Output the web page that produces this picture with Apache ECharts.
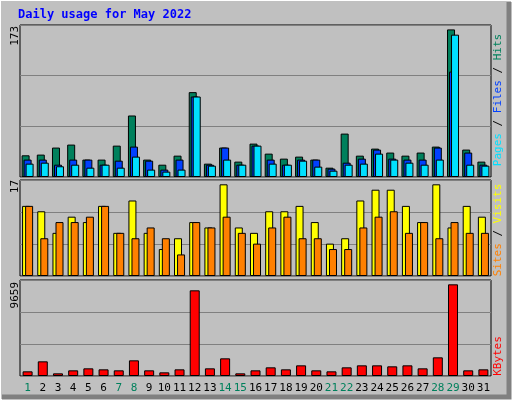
<!DOCTYPE html>
<html>
<head>
<meta charset="utf-8">
<script src="https://cdn.jsdelivr.net/npm/echarts@6/dist/echarts.min.js"></script>
<style>
	html, body { margin: 0; padding: 0; background: #c0c0c0; }
	#chart { width: 512px; height: 400px; }
</style>
</head>
<body>
<div id="chart"></div>
<script>
var days = [];
for (var d = 1; d <= 31; d++) {
	days.push(String(d));
}
var weekendDays = ["1", "7", "8", "14", "15", "21", "22", "28", "29"];

// 上图 (Hits / Files / Pages)
var hits = [24.7, 25.5, 33.5, 36.9, 19.8, 19.8, 35.7, 70, 19.8, 14, 24.3, 96.6, 15.2, 33.5, 17.5, 38,
	26.6, 20.9, 23.2, 19.8, 10.6, 49.4, 24.3, 32.3, 27.8, 24.3, 27.8, 34.6, 168, 31.2, 17.5];
var files = [19.8, 19.8, 14, 19.8, 19.8, 14, 18.6, 34.6, 18.6, 8.4, 19.8, 91.6, 14, 33.5, 14, 35.7,
	19.8, 14, 19.8, 19.8, 9.5, 16.3, 20.9, 31.2, 20.9, 19.8, 19.8, 33.5, 120, 27.8, 14];
var pages = [15.2, 16.3, 12.2, 14, 10.6, 14, 10.6, 23.2, 8.4, 6.1, 8.4, 91.6, 12.9, 19.8, 14, 35.7,
	15.2, 14, 18.6, 11.8, 7.2, 14, 15.2, 26.6, 19.8, 16.3, 14, 19.8, 162, 14, 12.9];

// 中图 (Visits / Sites)
var visits = [13, 12, 8, 11, 10, 13, 8, 14, 8, 5, 7, 10, 9, 17, 9, 8,
	12, 12, 13, 10, 6, 7, 14, 16, 16, 13, 10, 17, 9, 13, 11];
var sites = [13, 7, 10, 10, 11, 13, 8, 7, 9, 7, 4, 10, 9, 11, 8, 6,
	9, 11, 7, 7, 5, 5, 9, 11, 12, 8, 10, 7, 10, 8, 8];

// 下图 (KBytes)
var kbytes = [492, 1545, 281, 597, 808, 702, 597, 1651, 597, 386, 702, 9027, 808, 1862, 281, 597,
	913, 702, 1124, 597, 492, 913, 1124, 1124, 1019, 1124, 808, 1967, 9659, 597, 702];

var maxHits = 173, maxVisits = 17.8, maxKB = 10116;

var chart = echarts.init(document.getElementById("chart"));
var mono = "DejaVu Sans Mono";

function grid(top, height) {
	return {
		left: 20, right: 21, top: top, height: height,
		show: true, backgroundColor: "#c0c0c0",
		borderColor: "#000", borderWidth: 1
	};
}
function xAxis(idx, showLabel) {
	return {
		type: "category", gridIndex: idx, data: days,
		axisLine: { show: false }, axisTick: { show: false },
		axisLabel: {
			show: showLabel, fontFamily: mono, fontSize: 11, margin: 7,
			interval: 0,
			formatter: function (v) {
				return weekendDays.indexOf(v) >= 0 ? "{w|" + v + "}" : "{n|" + v + "}";
			},
			rich: { w: { color: "#00805c", fontFamily: mono, fontSize: 11 }, n: { color: "#000", fontFamily: mono, fontSize: 11 } }
		}
	};
}
function yAxis(idx, max) {
	return {
		type: "value", gridIndex: idx, min: 0, max: max, interval: max / 3,
		axisLabel: { show: false }, axisLine: { show: false }, axisTick: { show: false },
		splitLine: { lineStyle: { color: "#808080", width: 1 } }
	};
}
function bars(name, data, xi, color, width, gap) {
	var s = {
		name: name, type: "bar", xAxisIndex: xi, yAxisIndex: xi, data: data,
		barWidth: width, animation: false,
		itemStyle: { color: color, borderColor: "#000", borderWidth: 1 }
	};
	if (gap) {
		s.barGap = gap;
	}
	return s;
}
function vtext(x, y, rich, text) {
	return {
		type: "text", x: x, y: y, rotation: Math.PI / 2,
		style: { text: text, rich: rich, fontFamily: mono, fontSize: 11, align: "right", verticalAlign: "middle" }
	};
}

var option = {
	backgroundColor: "#c0c0c0",
	grid: [grid(25, 152), grid(180, 96), grid(280, 96)],
	xAxis: [xAxis(0, false), xAxis(1, false), xAxis(2, true)],
	yAxis: [yAxis(0, maxHits), yAxis(1, maxVisits), yAxis(2, maxKB)],
	series: [
		bars("Hits", hits, 0, "#00805c", 8, "-75%"),
		bars("Files", files, 0, "#0040ff", 8, "-75%"),
		bars("Pages", pages, 0, "#00e0ff", 8, "-75%"),
		bars("Visits", visits, 1, "#ffff00", 8, "-62%"),
		bars("Sites", sites, 1, "#ff8000", 8, "-62%"),
		bars("KBytes", kbytes, 2, "#ff0000", 10)
	],
	graphic: [
		{ type: "rect", shape: { x: 0, y: 0, width: 512, height: 400 }, silent: true, z: -10,
			style: { fill: "none", stroke: "#fff", lineWidth: 2 } },
		{ type: "polyline", shape: { points: [[509, 2], [509, 397], [2, 397]] }, silent: true,
			style: { fill: "none", stroke: "#808080", lineWidth: 5 } },
		{ type: "text", x: 18, y: 9,
			style: { text: "Daily usage for May 2022", fill: "#0000ff", fontFamily: mono, fontSize: 12, fontWeight: "bold" } },
		vtext(15, 26, {}, "173"),
		vtext(15, 180, {}, "17"),
		vtext(15, 282, {}, "9659"),
		{ type: "text", x: 498, y: 100, rotation: Math.PI / 2,
			style: { text: "{p|Pages}{s| / }{f|Files}{s| / }{h|Hits}", fontFamily: mono, fontSize: 11, align: "center", verticalAlign: "middle",
				rich: { p: { fill: "#00e0ff", fontFamily: mono, fontSize: 11 }, f: { fill: "#0040ff", fontFamily: mono, fontSize: 11 },
					h: { fill: "#00805c", fontFamily: mono, fontSize: 11 }, s: { fill: "#000", fontFamily: mono, fontSize: 11 } } } },
		{ type: "text", x: 498, y: 230, rotation: Math.PI / 2,
			style: { text: "{o|Sites}{s| / }{y|Visits}", fontFamily: mono, fontSize: 11, align: "center", verticalAlign: "middle",
				rich: { o: { fill: "#ff8000", fontFamily: mono, fontSize: 11 }, y: { fill: "#ffff00", fontFamily: mono, fontSize: 11 },
					s: { fill: "#000", fontFamily: mono, fontSize: 11 } } } },
		{ type: "text", x: 498, y: 356, rotation: Math.PI / 2,
			style: { text: "KBytes", fill: "#ff0000", fontFamily: mono, fontSize: 11, align: "center", verticalAlign: "middle" } }
	]
};
chart.setOption(option);
</script>
</body>
</html>
